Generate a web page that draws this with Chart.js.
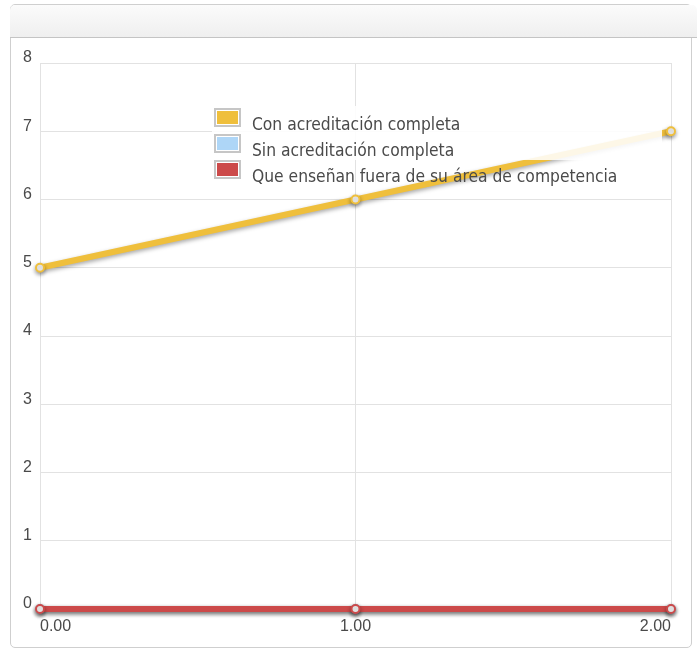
<!DOCTYPE html>
<html>
<head>
<meta charset="utf-8">
<script src="https://cdn.jsdelivr.net/npm/chart.js@4/dist/chart.umd.min.js"></script>
<style>
    body { margin: 0; background: #fff; }
    #wrap { position: relative; width: 697px; height: 649px; overflow: hidden; }
    .panel { position: absolute; left: 10px; top: 4px; width: 680px; height: 642px; border: 1px solid #cfcfcf; border-radius: 5px; }
    .panel-head { position: absolute; left: 10px; top: 5px; width: 687px; height: 32px; border-radius: 5px 5px 0 0;
        background: linear-gradient(#fbfbfb, #efefef); border-bottom: 1px solid #c4c4c4; }
    #chart { position: absolute; left: 0; top: 0; }
    #legend { position: absolute; left: 212px; top: 106px; width: 450px; height: 84px;
        background: linear-gradient(rgba(255,255,255,0.88) 0, rgba(255,255,255,0.88) 54px, rgba(255,255,255,0) 54px);
        font-family: "DejaVu Sans Condensed", "DejaVu Sans", sans-serif; font-stretch: condensed;
        font-size: 17.3px; color: #4a4a4a; }
    .item { position: absolute; left: 2px; height: 20px; white-space: nowrap; }
    .swatch { position: absolute; left: 0; top: 2px; width: 23px; height: 15px; border: 2px solid #c6c6c6; box-shadow: inset 0 0 0 1px #fff; }
    .item span { position: absolute; left: 38px; top: 8px; }
</style>
</head>
<body>
<div id="wrap">
    <div class="panel"></div>
    <div class="panel-head"></div>
    <canvas id="chart" width="697" height="649"></canvas>
    <div id="legend"></div>
</div>
<script>
// chart values
var xValues = [0, 1, 2];
var seriesNames = ['Con acreditación completa', 'Sin acreditación completa', 'Que enseñan fuera de su área de competencia'];
var conAcreditacion = [5, 6, 7];
var sinAcreditacion = [0, 0, 0];
var fueraDeArea = [0, 0, 0];
var yTicks = [0, 1, 2, 3, 4, 5, 6, 7, 8];
var colors = ['#efbf3c', '#aed6f7', '#cc4a4a'];

function toPoints(values) {
    return values.map(function(v, i) { return { x: xValues[i], y: v }; });
}

// build the html legend
var legend = document.getElementById('legend');
seriesNames.forEach(function(name, i) {
    legend.innerHTML += '<div class="item" style="top:' + (i * 26) + 'px">' +
        '<div class="swatch" style="background:' + colors[i] + '"></div><span>' + name + '</span></div>';
});

// soft shadow under the lines
var shadowPlugin = {
    id: 'lineShadow',
    beforeDatasetsDraw: function(chart) {
        var ctx = chart.ctx;
        ctx.save();
        ctx.shadowColor = 'rgba(0,0,0,0.35)';
        ctx.shadowBlur = 4;
        ctx.shadowOffsetY = 2;
    },
    afterDatasetsDraw: function(chart) {
        chart.ctx.restore();
    }
};

var allData = [conAcreditacion, sinAcreditacion, fueraDeArea];
var orders = [0, 2, 1];

var ctx = document.getElementById('chart').getContext('2d');
window.myChart = new Chart(ctx, {
    type: 'line',
    data: {
        datasets: allData.map(function(values, i) {
            return {
                label: seriesNames[i],
                data: toPoints(values),
                borderColor: colors[i],
                backgroundColor: colors[i],
                borderWidth: 6,
                pointRadius: 4,
                pointBorderWidth: 2,
                pointBackgroundColor: '#fff',
                pointBorderColor: colors[i],
                fill: false,
                tension: 0,
                clip: false,
                order: orders[i]
            };
        })
    },
    plugins: [shadowPlugin],
    options: {
        responsive: false,
        animation: false,
        layout: {
            padding: { top: 63, right: 26, left: 0, bottom: 0 }
        },
        plugins: {
            legend: { display: false },
            tooltip: { enabled: false }
        },
        scales: {
            x: {
                type: 'linear',
                min: 0,
                max: 2,
                afterFit: function(scale) { scale.height = 40; },
                afterBuildTicks: function(scale) {
                    scale.ticks = xValues.map(function(v) { return { value: v }; });
                },
                grid: { color: '#e2e2e2', drawTicks: false },
                border: { color: '#e2e2e2' },
                ticks: {
                    align: 'inner',
                    padding: 8,
                    color: '#4a4a4a',
                    font: { family: 'Liberation Sans', size: 16 },
                    callback: function(v) { return Number(v).toFixed(2); }
                }
            },
            y: {
                min: 0,
                max: 8,
                afterFit: function(scale) { scale.width = 40; },
                afterBuildTicks: function(scale) {
                    scale.ticks = yTicks.map(function(v) { return { value: v }; });
                },
                grid: { color: '#e2e2e2', drawTicks: false },
                border: { color: '#e2e2e2' },
                ticks: {
                    padding: 8,
                    labelOffset: -5,
                    color: '#4a4a4a',
                    font: { family: 'Liberation Sans', size: 16 }
                }
            }
        }
    }
});
</script>
</body>
</html>
